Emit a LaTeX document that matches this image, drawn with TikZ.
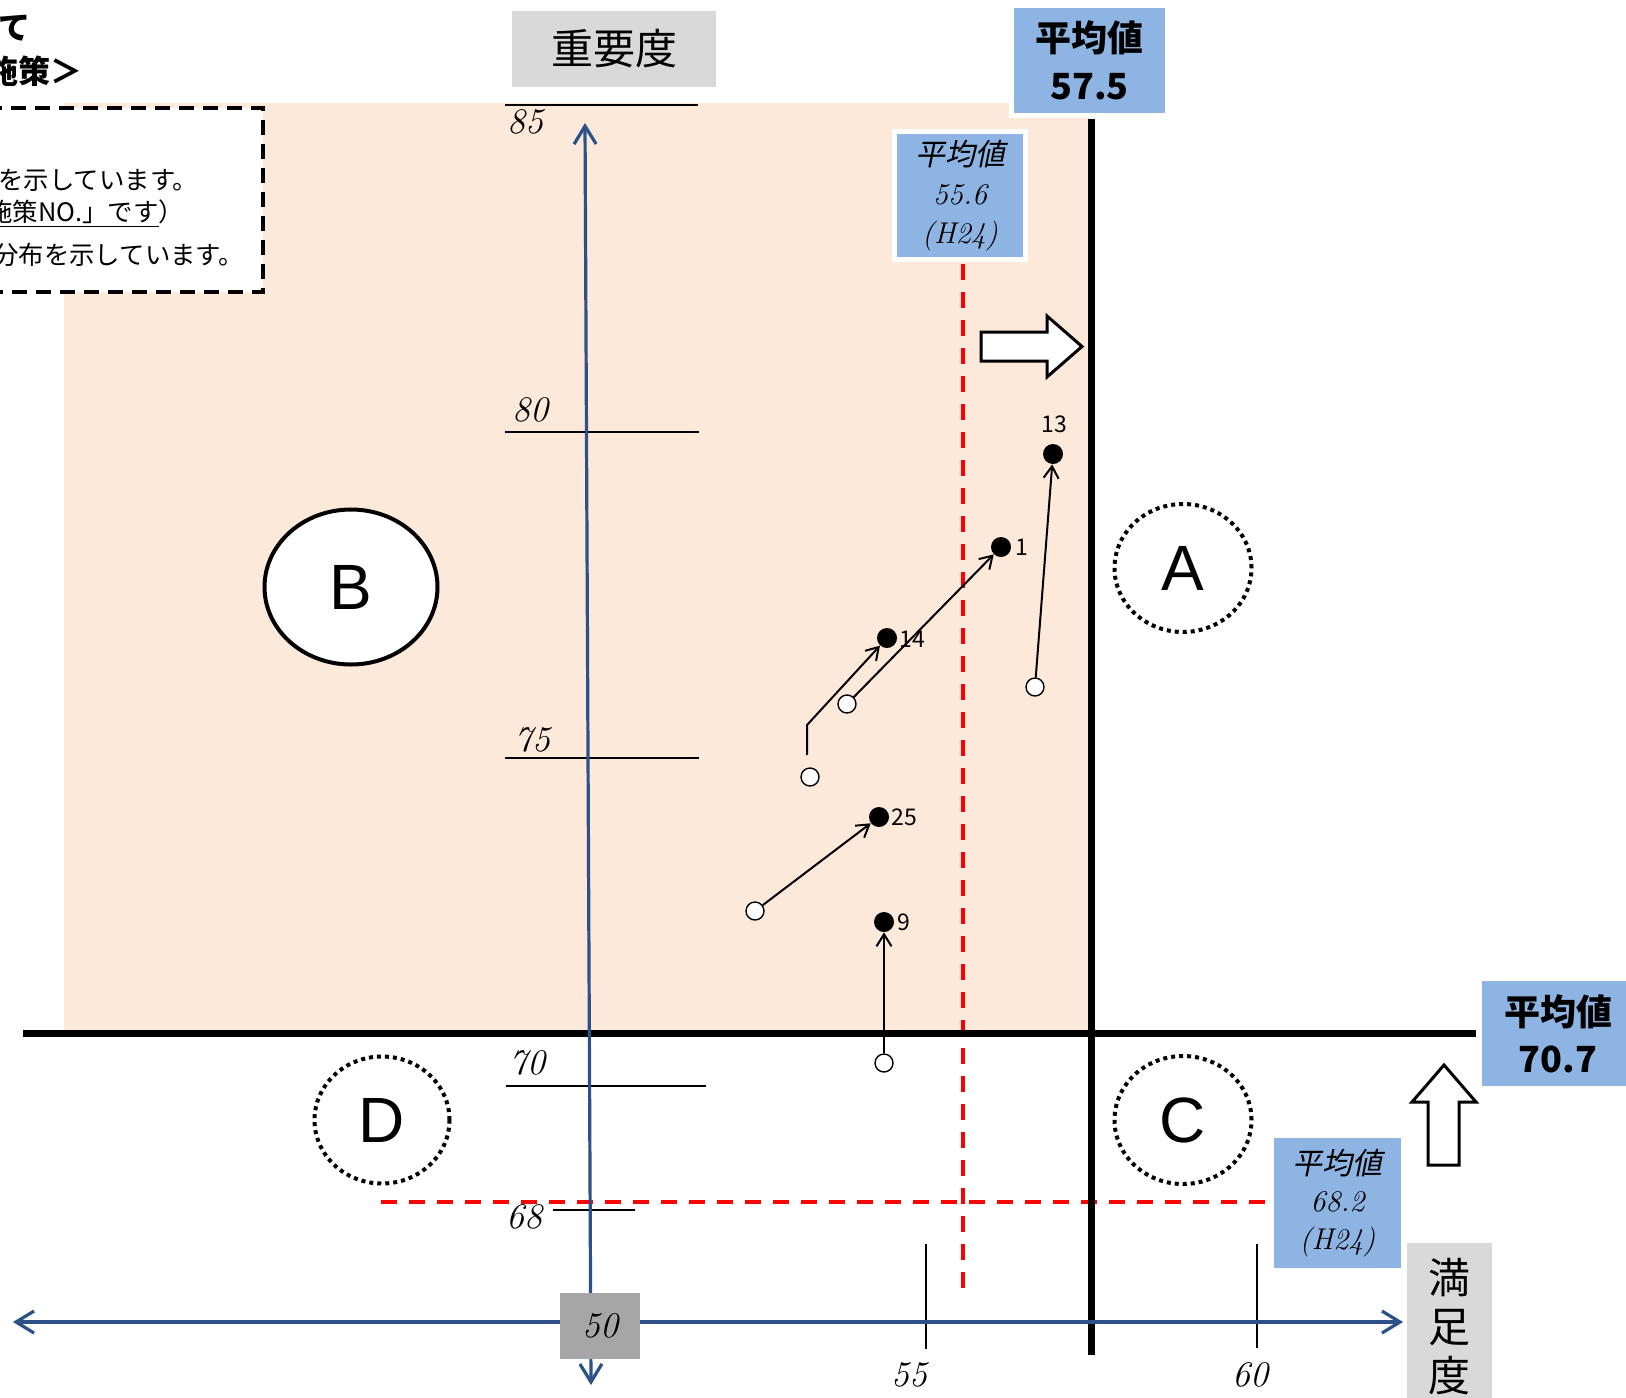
\documentclass[tikz,border=0pt]{standalone}
\usepackage{fontspec}
\usetikzlibrary{arrows.meta,shapes.geometric}
\newfontfamily\jp{Noto Sans CJK JP}
\newfontfamily\jpit{Noto Sans CJK JP}[FakeSlant=0.2]
\newfontfamily\lsans{Liberation Sans}
\definecolor{peach}{HTML}{FDE9D9}
\definecolor{boxblue}{HTML}{8DB4E2}
\definecolor{lgrey}{HTML}{D9D9D9}
\definecolor{dgrey}{HTML}{A6A6A6}
\definecolor{axisblue}{HTML}{2B5188}
\definecolor{dashred}{HTML}{FF0000}
\begin{document}
\begin{tikzpicture}[x=0.5pt,y=-0.5pt,
  avgbox/.style={fill=boxblue, inner sep=0pt, align=center, text=black},
  whiteedge/.style={preaction={draw=white, line width=5pt}},
  region/.style={ellipse, inner sep=0pt, font=\lsans\fontsize{32}{32}\selectfont},
  solidregion/.style={region, draw, line width=2pt, fill=white},
  dotregion/.style={region, draw, line width=2pt, dash pattern=on 2pt off 2pt},
  nowpt/.style={circle, fill=black, minimum size=10pt, inner sep=0pt},
  prevpt/.style={circle, draw, fill=white, line width=0.7pt, minimum size=9pt, inner sep=0pt},
  move/.style={line width=1pt, -{Straight Barb[length=6pt,width=7.5pt]}},
  numlbl/.style={font=\jp\fontsize{11.5}{11.5}\selectfont, inner sep=0pt},
  scalelbl/.style={font=\itshape\fontsize{18}{18}\selectfont, inner sep=0pt},
  ticklin/.style={line width=1.35pt},
  avgline/.style={line width=3.5pt},
  axisline/.style={draw=axisblue, line width=1.6pt, {Straight Barb[length=9pt,width=11pt]}-{Straight Barb[length=9pt,width=11pt]}},
  reddash/.style={draw=dashred, line width=2pt, dash pattern=on 8pt off 6pt},
  blockarrow/.style={draw, fill=white, line width=1.5pt, line join=miter},
  jptext/.style={font=\jp\fontsize{12.7}{12.7}\selectfont, inner sep=0pt, anchor=west},
  titletext/.style={font=\jp\bfseries\fontsize{16}{16}\selectfont, inner sep=0pt, anchor=west}
]
\useasboundingbox (0,0) rectangle (1626,1397);
\fill[white] (0,0) rectangle (1626,1397);

% background quadrant B
\fill[peach] (64,103) rectangle (1091,1033);

% explanatory dashed box (partly outside)
\draw[line width=2pt, dash pattern=on 7.5pt off 4.5pt, fill=white] (-20,108) rectangle (263,292);
\node[titletext] (t1) at (-2,28) {て};
\node[titletext] (t2) at (-14,71) {施策＞};
\node[jptext] (n1) at (-2,180) {を示しています。};
\node[jptext] (n2) at (-13,214) {\underline{施策NO.」です}）};
\node[jptext] (n3) at (-7,255) {分布を示しています。};

% importance ticks
\draw[ticklin] (505,105) -- (698,105);
\draw[ticklin] (505,432) -- (699,432);
\draw[ticklin] (505,758) -- (699,758);
\draw[ticklin] (506,1086) -- (706,1086);
\draw[ticklin] (553,1210) -- (635,1210);
\node[scalelbl] (s85) at (525,122) {85};
\node[scalelbl] (s80) at (530,410) {80};
\node[scalelbl] (s75) at (532,740) {75};
\node[scalelbl] (s70) at (527,1063) {70};
\node[scalelbl] (s68) at (524,1217) {68};

% satisfaction ticks
\draw[line width=1pt] (926,1244) -- (926,1349);
\draw[line width=1pt] (1257,1244) -- (1257,1348);
\node[scalelbl] (s55) at (909,1375) {55};
\node[scalelbl] (s60) at (1250,1375) {60};

% previous averages (red dashed)
\draw[reddash] (963,264) -- (963,1289);
\draw[reddash] (381,1202) -- (1265,1202);

% current averages (thick)
\draw[avgline] (1091,119) -- (1091,1355);
\draw[avgline] (23,1033) -- (1476,1033);

% axes
\coordinate (ytop) at (585,123);
\coordinate (ybot) at (591,1385);
\coordinate (xleft) at (13,1322);
\coordinate (xright) at (1403,1322);
\draw[axisline] (ytop) -- (ybot);
\draw[axisline] (xleft) -- (xright);

% labels boxes
\node[fill=lgrey, minimum width=102pt, minimum height=38pt, inner sep=0pt, font=\jp\fontsize{21}{21}\selectfont] (imp) at (614,49) {重要度};
\node[fill=lgrey, minimum width=42.5pt, minimum height=84pt, inner sep=0pt, align=center, font=\jp\fontsize{21}{24.5}\selectfont] (sat) at (1449.5,1327) {満\\足\\度};
\node[fill=dgrey, minimum width=40pt, minimum height=33pt, inner sep=0pt, font=\itshape\fontsize{18}{18}\selectfont] (zero) at (600,1326) {50};

\node[avgbox, whiteedge, minimum width=75.5pt, minimum height=52.5pt, font=\jp\bfseries\fontsize{18}{24}\selectfont] (avgS) at (1089.5,60.5) {平均値\\57.5};
\node[avgbox, minimum width=76pt, minimum height=52.5pt, font=\jp\bfseries\fontsize{18}{23.5}\selectfont] (avgI) at (1558,1033.5) {平均値\\70.7};
\node[avgbox, whiteedge, minimum width=63pt, minimum height=61.5pt, font=\fontsize{15}{19.5}\selectfont] (prevS) at (960,195.5) {{\jpit 平均値}\\{\itshape 55.6}\\{\itshape (H24)}};
\node[avgbox, minimum width=63.5pt, minimum height=65pt, font=\fontsize{15}{18.75}\selectfont] (prevI) at (1337.5,1203) {{\jpit 平均値}\\{\itshape 68.2}\\{\itshape (H24)}};

% block arrows
\draw[blockarrow] (981,332) -- (1047,332) -- (1047,316) -- (1082,346.5) -- (1047,377) -- (1047,361) -- (981,361) -- cycle;
\draw[blockarrow] (1444,1065) -- (1476,1102) -- (1459,1102) -- (1459,1165) -- (1428,1165) -- (1428,1102) -- (1412,1102) -- cycle;

% regions
\node[solidregion, minimum width=86.5pt, minimum height=77.5pt] (B) at (351,587) {B};
\node[dotregion, minimum width=68.5pt, minimum height=64pt] (A) at (1183,568) {A};
\node[dotregion, minimum width=68.5pt, minimum height=64pt] (C) at (1183,1120) {C};
\node[dotregion, minimum width=67.5pt, minimum height=63.5pt] (D) at (382,1120) {D};

% data points
\node[nowpt] (f13) at (1053,454) {};
\node[nowpt] (f1) at (1001,547) {};
\node[nowpt] (f14) at (887,638) {};
\node[nowpt] (f25) at (879,817) {};
\node[nowpt] (f9) at (884,922) {};
\node[prevpt] (o13) at (1035,687) {};
\node[prevpt] (o1) at (847,704) {};
\node[prevpt] (o14) at (810,777) {};
\node[prevpt] (o25) at (755,911) {};
\node[prevpt] (o9) at (884,1063) {};
\node[numlbl] (l13) at (1054,424) {13};
\node[numlbl] (l1) at (1022,547) {1};
\node[numlbl] (l14) at (912,639) {14};
\node[numlbl] (l25) at (904,817) {25};
\node[numlbl] (l9) at (904,922) {9};

\coordinate (s14) at (807,755);
\coordinate (b14) at (807,725);
\draw[move] (o13) -- (f13);
\draw[move] (o1) -- (f1);
\draw[move] (s14) -- (b14) -- (f14);
\draw[move] (o25) -- (f25);
\draw[move] (o9) -- (f9);
\end{tikzpicture}
\end{document}
